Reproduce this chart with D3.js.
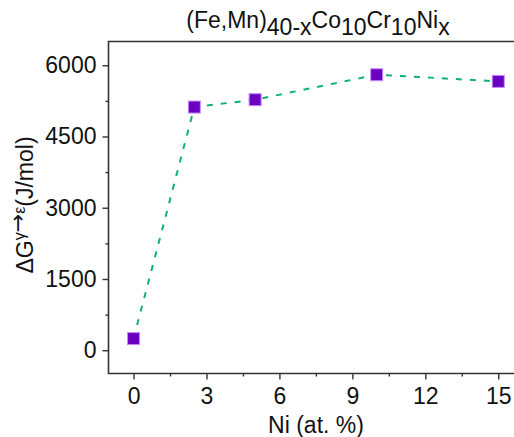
<!DOCTYPE html>
<html><head><meta charset="utf-8">
<script src="https://cdn.jsdelivr.net/npm/d3@7"></script>
<style>body{margin:0;background:#fff;} svg{display:block;font-family:"Liberation Sans",Arial,sans-serif;}</style>
</head><body>
<script>
const niContent = [0, 2.5, 5, 10, 15];
const deltaG = [245, 5120, 5275, 5800, 5660];
const xTicks = [0, 3, 6, 9, 12, 15];
const yTicks = [0, 1500, 3000, 4500, 6000];

(function(){
const W = 514, H = 437;
const svg = d3.select("body").append("svg").attr("width", W).attr("height", H);
const pLeft = 108.5, pTop = 41.5, pBottom = 373.5;
const x = d3.scaleLinear().domain([-1.03, 16]).range([pLeft, 133.3 + 16*24.33]);
const y = d3.scaleLinear().domain([-490, 6500]).range([pBottom, pTop]);

const axisColor = "#333";
const FS = "23px";
// frame
svg.append("path").attr("d", `M${W+5},${pTop}H${pLeft}V${pBottom}H${W+5}`)
  .attr("fill","none").attr("stroke",axisColor).attr("stroke-width",1.6);

// x axis
const gx = svg.append("g").attr("transform",`translate(0,${pBottom})`);
gx.call(d3.axisBottom(x).tickValues(xTicks).tickSize(6).tickFormat(d3.format("d")));
gx.append("g").call(d3.axisBottom(x).tickValues(d3.range(1.5,16,3)).tickSize(3).tickFormat(""));
// y axis
const gy = svg.append("g").attr("transform",`translate(${pLeft},0)`);
gy.call(d3.axisLeft(y).tickValues(yTicks).tickSize(6).tickPadding(6).tickFormat(d3.format("d")));
gy.append("g").call(d3.axisLeft(y).tickValues(d3.range(750,6500,1500)).tickSize(3).tickFormat(""));
svg.selectAll(".domain").remove();
svg.selectAll(".tick line").attr("stroke",axisColor).attr("stroke-width",1.4);
svg.selectAll(".tick text").attr("fill","#111").style("font-size",FS);
gx.selectAll(".tick text").attr("y",30.5).attr("dy",null);

// line
const pts = niContent.map((d,i)=>[d, deltaG[i]]);
svg.append("path").datum(pts)
  .attr("d", d3.line().x(d=>x(d[0])).y(d=>y(d[1])))
  .attr("fill","none").attr("stroke","#10b07a").attr("stroke-width",2)
  .attr("stroke-dasharray","6,8");
// markers
const s = 12;
svg.selectAll("rect.pt").data(pts).join("rect").attr("class","pt")
  .attr("x",d=>x(d[0])-s/2).attr("y",d=>y(d[1])-s/2).attr("width",s).attr("height",s)
  .attr("fill","#6a00c0").attr("stroke","#c88cff").attr("stroke-width",1);

// title
const t = svg.append("text").attr("x",318).attr("y",28).attr("text-anchor","middle")
  .style("font-size",FS).attr("fill","#111");
const parts = [["(Fe,Mn)",0],["40-x",1],["Co",0],["10",1],["Cr",0],["10",1],["Ni",0],["x",1]];
let prevSub = 0;
parts.forEach(([txt,sub])=>{
  const sp = t.append("tspan").text(txt);
  const dy = (sub - prevSub) * 7;
  if (dy) sp.attr("dy", dy);
  prevSub = sub;
});

// x label
svg.append("text").attr("x",316).attr("y",433).attr("text-anchor","middle")
  .style("font-size",FS).attr("fill","#111").text("Ni (at. %)");

// y label
const yl = svg.append("text").attr("transform","translate(33,205) rotate(-90)")
  .attr("text-anchor","middle").style("font-size",FS).attr("fill","#111");
yl.append("tspan").text("ΔG");
yl.append("tspan").text("γ").attr("dy",-8).style("font-size","16px");
yl.append("tspan").text("→").style("font-size","22px").style("font-family","DejaVu Sans");
yl.append("tspan").text("ε").style("font-size","16px");
yl.append("tspan").text("(J/mol)").attr("dy",8);
})();
</script>
</body></html>
